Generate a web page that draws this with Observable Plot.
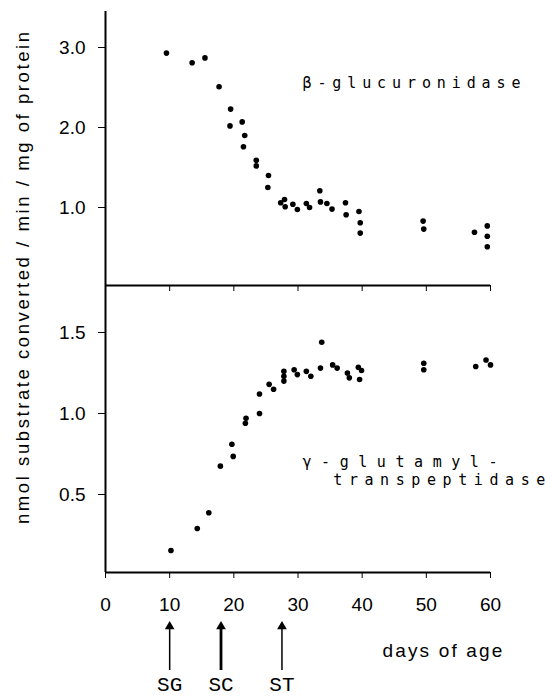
<!DOCTYPE html>
<html><head><meta charset="utf-8">
<script src="https://cdn.jsdelivr.net/npm/d3@7"></script>
<script src="https://cdn.jsdelivr.net/npm/@observablehq/plot@0.6"></script>
<style>
html,body{margin:0;padding:0;background:#fff;}
#chart{position:relative;width:545px;height:696px;overflow:hidden;background:#fff;}
#chart svg{position:absolute;left:0;top:0;}
</style></head><body><div id="chart"></div>
<script>
// β-glucuronidase (top panel)
const betaDays   = [9.5, 13.5, 15.5, 17.7, 19.5, 19.4, 21.3, 21.7, 21.5, 23.5, 23.5, 25.4, 25.3, 27.3, 27.9, 28.0, 29.2, 29.9, 31.3, 31.8, 33.4, 33.5, 34.5, 35.3, 37.4, 37.5, 39.5, 39.7, 39.7, 49.5, 49.6, 57.5, 59.5, 59.5, 59.5];
const betaValues = [2.93, 2.81, 2.87, 2.51, 2.23, 2.02, 2.07, 1.90, 1.76, 1.59, 1.52, 1.40, 1.25, 1.06, 1.10, 1.01, 1.04, 0.975, 1.05, 1.00, 1.21, 1.07, 1.05, 0.98, 1.06, 0.91, 0.95, 0.81, 0.68, 0.83, 0.73, 0.69, 0.77, 0.64, 0.51];
// γ-glutamyl-transpeptidase (bottom panel)
const gammaDays   = [10.2, 14.3, 16.1, 17.9, 19.7, 19.9, 21.9, 21.8, 24.0, 24.0, 25.5, 26.2, 27.8, 27.8, 27.8, 29.4, 29.9, 31.3, 32.0, 33.5, 33.7, 35.4, 36.1, 37.7, 38.0, 39.4, 39.9, 39.6, 49.6, 49.6, 57.7, 59.3, 60.0];
const gammaValues = [0.154, 0.29, 0.387, 0.675, 0.81, 0.735, 0.97, 0.94, 1.00, 1.12, 1.18, 1.15, 1.26, 1.23, 1.20, 1.27, 1.24, 1.26, 1.23, 1.28, 1.44, 1.30, 1.28, 1.25, 1.22, 1.285, 1.265, 1.21, 1.31, 1.27, 1.29, 1.33, 1.30];

const xTicks = [0, 10, 20, 30, 40, 50, 60];
const betaTicks = [1.0, 2.0, 3.0];
const gammaTicks = [0.5, 1.0, 1.5];
const stageDays = [10, 18, 27.5];
const stageLabels = ["SG", "SC", "ST"];
const betaLabel = "β-glucuronidase";
const gammaLabel1 = "γ-glutamyl-";
const gammaLabel2 = "transpeptidase";
const xTitle = "days of age";
const yTitle = "nmol substrate converted / min / mg of protein";

const beta = betaDays.map((d, i) => ({day: d, value: betaValues[i]}));
const gamma = gammaDays.map((d, i) => ({day: d, value: gammaValues[i]}));
const stages = stageDays.map((d, i) => ({day: d, label: stageLabels[i]}));

const sansFont = "'Liberation Sans', 'DejaVu Sans', sans-serif";
const monoFont = "'DejaVu Sans Mono', 'Liberation Mono', monospace";
const serifMono = "'Liberation Mono', 'Courier New', Courier, 'Nimbus Mono PS', FreeMono, monospace";
const baseStyle = {background: "transparent", overflow: "visible", fontFamily: sansFont, fontSize: "19px", color: "#000"};
const common = {width: 545, marginLeft: 105, marginRight: 55};
const betaMin = 0.025, betaMax = 3.45;
const gammaMin = 0.0185, gammaMax = 1.79;

const topPlot = Plot.plot({
  ...common, height: 286, marginTop: 11, marginBottom: 1,
  style: baseStyle,
  x: {domain: [0, 60], ticks: xTicks, tickSize: 6, tickFormat: () => "", label: null},
  y: {domain: [betaMin, betaMax], ticks: betaTicks, tickSize: 7, tickPadding: 13, tickFormat: d3.format(".1f"), label: null},
  marks: [
    Plot.ruleX([0], {strokeWidth: 2}),
    Plot.ruleY([betaMin], {strokeWidth: 2}),
    Plot.dot(beta, {x: "day", y: "value", r: 2.8, fill: "black", stroke: "none"}),
    Plot.text([betaLabel], {x: 30.7, y: 2.56, text: d => d, textAnchor: "start", fontFamily: monoFont, fontSize: 15})
  ]
});

const bottomPlot = Plot.plot({
  ...common, height: 696, marginTop: 285, marginBottom: 124,
  style: baseStyle,
  x: {domain: [0, 60], ticks: xTicks, tickSize: 6, tickPadding: 19, tickFormat: d3.format("d"), label: null},
  y: {domain: [gammaMin, gammaMax], ticks: gammaTicks, tickSize: 7, tickPadding: 13, tickFormat: d3.format(".1f"), label: null},
  marks: [
    Plot.ruleX([0], {strokeWidth: 2}),
    Plot.ruleY([gammaMin], {strokeWidth: 2}),
    Plot.dot(gamma, {x: "day", y: "value", r: 2.8, fill: "black", stroke: "none"}),
    Plot.text([gammaLabel1], {x: 30.7, y: 0.70, text: d => d, textAnchor: "start", fontFamily: monoFont, fontSize: 15}),
    Plot.text([gammaLabel2], {x: 35.5, y: 0.586, text: d => d, textAnchor: "start", fontFamily: monoFont, fontSize: 15})
  ]
});

const annPlot = Plot.plot({
  ...common, height: 696, marginTop: 620, marginBottom: 26,
  style: baseStyle,
  x: {domain: [0, 60], axis: null},
  y: {domain: [0, 1], axis: null},
  marks: [
    Plot.ruleX(stages, {x: "day", y1: 0, y2: 0.9, strokeWidth: 1.5, filter: d => d.label !== "SC"}),
    Plot.ruleX(stages, {x: "day", y1: 0, y2: 0.9, strokeWidth: 2.8, filter: d => d.label === "SC"}),
    Plot.dot(stages, {x: "day", y: 0.88, symbol: "triangle", r: 3.6, fill: "black", stroke: "none"}),
    Plot.text(stages, {x: "day", y: -0.27, text: "label", fontFamily: serifMono, fontSize: 21}),
    Plot.text([xTitle], {x: 52.5, y: 0.4, text: d => d, fontSize: 19})
  ]
});

const chart = document.getElementById("chart");
chart.append(topPlot, bottomPlot, annPlot);

// spread the letter-spaced annotation labels to their measured widths
const lengths = {[betaLabel]: 218, [gammaLabel1]: 195, [gammaLabel2]: 212, [xTitle]: 120};
chart.querySelectorAll("text").forEach(t => {
  const L = lengths[t.textContent];
  if (L) { t.setAttribute("textLength", L); t.setAttribute("lengthAdjust", "spacing"); }
  if (stageLabels.includes(t.textContent)) t.style.fontFamily = serifMono;
});

// rotated y-axis title
d3.select(annPlot).append("text")
  .attr("transform", "translate(24,278) rotate(-90)")
  .attr("text-anchor", "middle")
  .attr("dominant-baseline", "middle")
  .attr("font-family", sansFont)
  .attr("font-size", 18.5)
  .attr("textLength", 492)
  .attr("lengthAdjust", "spacing")
  .attr("fill", "#000")
  .text(yTitle);
</script></body></html>
